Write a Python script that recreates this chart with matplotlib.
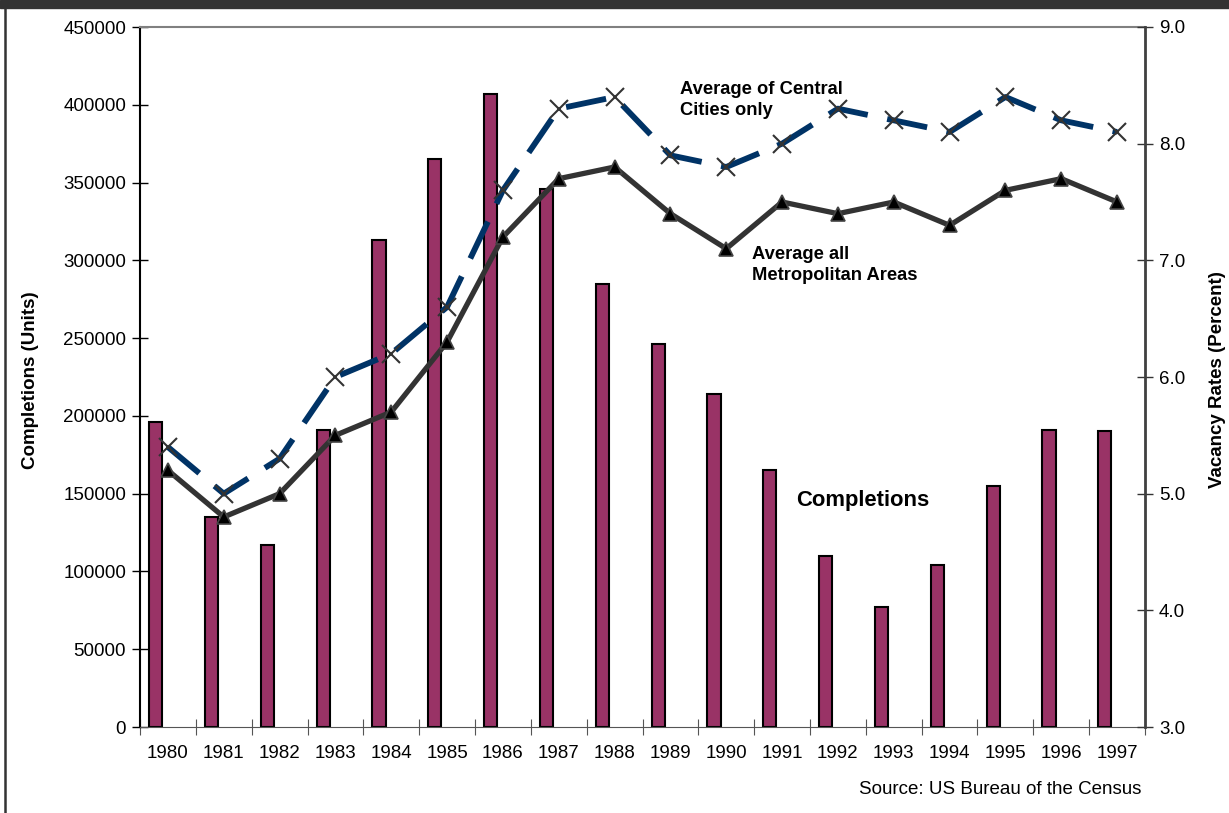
import matplotlib.pyplot as plt
import matplotlib.patches as patches
import numpy as np

plt.rcParams['font.family'] = ['Liberation Sans', 'DejaVu Sans']

# 年份與數據
years = [str(y) for y in range(1980, 1998)]
completions = [196000, 135000, 117000, 191000, 313000, 365000, 407000, 346000, 285000,
               246000, 214000, 165000, 110000, 77000, 104000, 155000, 191000, 190000]
central_cities = [5.4, 5.0, 5.3, 6.0, 6.2, 6.6, 7.6, 8.3, 8.4,
                  7.9, 7.8, 8.0, 8.3, 8.2, 8.1, 8.4, 8.2, 8.1]
metro_areas = [5.2, 4.8, 5.0, 5.5, 5.7, 6.3, 7.2, 7.7, 7.8,
               7.4, 7.1, 7.5, 7.4, 7.5, 7.3, 7.6, 7.7, 7.5]

x = np.arange(len(years))
fs = 13.5

fig = plt.figure(figsize=(12.29, 8.13), dpi=100)
ax = fig.add_axes([140/1229, 1-727/813, (1145-140)/1229, 700/813])

# 上方深色橫條與左側邊線
fig.add_artist(patches.Rectangle((0, 1-8/813), 1, 8/813, transform=fig.transFigure,
                                 color='#333333', zorder=0))
fig.add_artist(plt.Line2D([5/1229, 5/1229], [0, 1-8/813], transform=fig.transFigure,
                          color='#333333', lw=1.8))

# 竣工量柱狀圖(偏左放置)
ax.bar(x - 0.22, completions, width=0.235, color='#993366', edgecolor='black',
       linewidth=1.5, zorder=2)

ax.set_xlim(-0.5, len(years) - 0.5)
ax.set_ylim(0, 450000)
ax.set_yticks(range(0, 450001, 50000))
ax.set_yticklabels([str(v) for v in range(0, 450001, 50000)], fontsize=fs)
ax.tick_params(axis='y', direction='inout', length=12, width=1, pad=4)

# X軸:刻度在類別邊界,標籤在中間
ax.set_xticks(np.arange(-0.5, len(years), 1.0))
ax.set_xticklabels([])
ax.set_xticks(x, minor=True)
ax.set_xticklabels(years, minor=True, fontsize=fs)
ax.tick_params(axis='x', which='major', direction='inout', length=12, color='#555555')
ax.tick_params(axis='x', which='minor', length=0, pad=13)

ax.spines['left'].set_color('black')
ax.spines['left'].set_linewidth(1.5)
ax.spines['bottom'].set_color('#555555')
ax.spines['top'].set_color('#808080')
ax.spines['top'].set_linewidth(1.5)
ax.spines['right'].set_visible(False)

# 右軸:空置率
ax2 = ax.twinx()
ax2.set_ylim(3.0, 9.0)
ax2.set_yticks(np.arange(3.0, 9.01, 1.0))
ax2.set_yticklabels([f'{v:.1f}' for v in np.arange(3.0, 9.01, 1.0)], fontsize=fs)
ax2.tick_params(axis='y', direction='inout', length=12, width=1, color='#333333', pad=4)
ax2.spines['right'].set_color('#404040')
ax2.spines['right'].set_linewidth(2)
for s in ['left', 'top', 'bottom']:
    ax2.spines[s].set_visible(False)

ax2.plot(x, central_cities, color='#003366', lw=4.2, dashes=(7, 3.4),
         marker='x', markersize=13, markeredgecolor='#333333', markeredgewidth=1.5, zorder=3)
ax2.plot(x, metro_areas, color='#333333', lw=3.8, marker='^', markersize=9.5,
         markerfacecolor='black', markeredgecolor='#444444', markeredgewidth=1.2, zorder=4)

# 軸標題
fig.text(31/1229, 1-380/813, 'Completions (Units)', fontsize=fs, fontweight='bold',
         rotation=90, va='center', ha='center')
fig.text(1217/1229, 1-380/813, 'Vacancy Rates (Percent)', fontsize=fs, fontweight='bold',
         rotation=90, va='center', ha='center')

# 標註文字
fig.text(680/1229, 1-100/813, 'Average of Central\nCities only', fontsize=13.2,
         fontweight='bold', va='center', ha='left', linespacing=1.3)
fig.text(752/1229, 1-265/813, 'Average all\nMetropolitan Areas', fontsize=13.2,
         fontweight='bold', va='center', ha='left', linespacing=1.3)
fig.text(796/1229, 1-500/813, 'Completions', fontsize=15.8,
         fontweight='bold', va='center', ha='left')
fig.text(1141/1229, 1-789/813, 'Source: US Bureau of the Census', fontsize=fs,
         va='center', ha='right')

fig.savefig('out.png', dpi=100)
